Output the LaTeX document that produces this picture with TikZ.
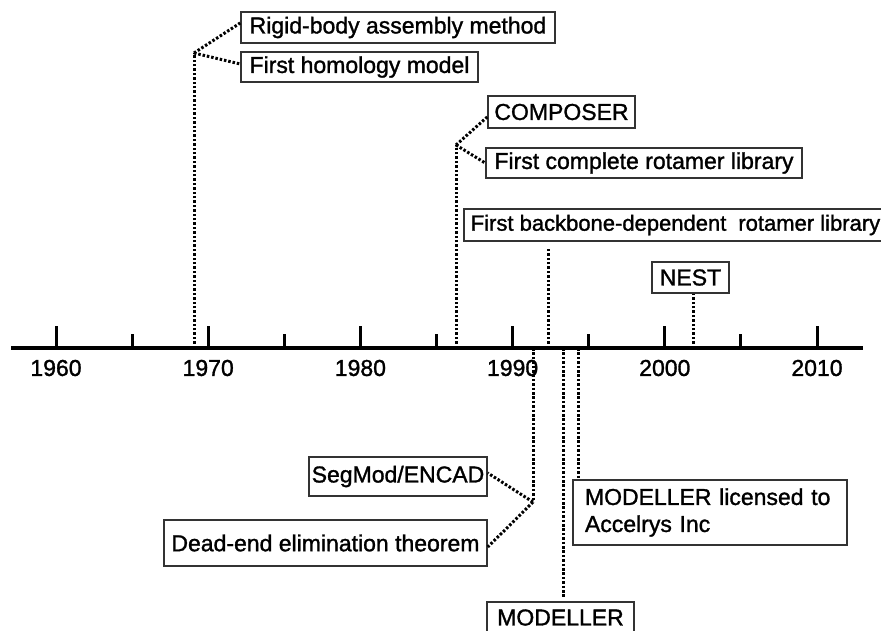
\documentclass[tikz,border=0pt]{standalone}
\usepackage{fontspec}
\setmainfont{Liberation Sans}
\newfontfamily\reffont{Liberation Sans}[FakeBold=1.3]
\begin{document}
\begin{tikzpicture}[x=1pt,y=-1pt,
  box/.style={draw=black!80, line width=1.6pt, inner sep=0pt, text=black,
    font=\reffont\fontsize{23}{27}\selectfont},
  yearlbl/.style={inner sep=0pt, text=black, font=\reffont\fontsize{23}{27}\selectfont},
  dotline/.style={line width=3pt, dash pattern=on 2.5pt off 1.9pt, black},
  axisline/.style={line width=4pt, black},
  majortick/.style={line width=3pt, black},
  minortick/.style={line width=3pt, black}]
\clip (0,0) rectangle (881,630);
\fill[white] (0,0) rectangle (881,630);

% boxes above the axis
\node[box, minimum width=314pt, minimum height=31pt] (rigid) at (398,27.5) {Rigid-body assembly method};
\node[box, minimum width=237pt, minimum height=30pt] (homol) at (359.5,67) {First homology model};
\node[box, minimum width=147pt, minimum height=32pt] (composer) at (561.5,112) {COMPOSER};
\node[box, minimum width=316pt, minimum height=30pt] (fcomplete) at (644,163) {First complete rotamer library};
\node[box, anchor=west, inner xsep=7pt, minimum height=32pt, font=\reffont\fontsize{22}{26}\selectfont] (backbone) at (463,225) {First backbone-dependent\hspace{12pt}rotamer library};
\node[box, minimum width=77pt, minimum height=31pt] (nest) at (690.5,277.5) {NEST};

% boxes below the axis
\node[box, minimum width=178pt, minimum height=39pt] (segmod) at (398,476.5) {SegMod/ENCAD};
\node[box, minimum width=323pt, minimum height=46pt] (deadend) at (325.5,543) {Dead-end elimination theorem};
\node[box, minimum width=274pt, minimum height=65pt, text width=250pt, align=left] (licensed) at (710,512.5) {MODELLER licensed to\\Accelrys Inc};
\node[box, minimum width=147pt, minimum height=31pt] (modeller) at (560.5,617.5) {MODELLER};

% points on the axis and junctions
\coordinate (a1969) at (194,348);
\coordinate (a1986) at (456,348);
\coordinate (a1991) at (533,348);
\coordinate (a1992) at (548,348);
\coordinate (a1993) at (563,348);
\coordinate (a1995) at (578,348);
\coordinate (a2002) at (693,348);
\coordinate (j1) at (194,53);
\coordinate (j2) at (456,145);
\coordinate (j3) at (533,502);

% connectors
\draw[dotline] (a1969) -- (j1);
\draw[dotline] (j1) -- ([yshift=4.5pt]rigid.west);
\draw[dotline] (j1) -- ([yshift=3pt]homol.west);
\draw[dotline] (a1986) -- (j2);
\draw[dotline] (j2) -- ([yshift=-5pt]composer.west);
\draw[dotline] (j2) -- (fcomplete.west);
\draw[dotline] (a1992) -- ([yshift=-6pt]a1992 |- backbone.south);
\draw[dotline] (a2002) -- (a2002 |- nest.south);
\draw[dotline] (a1991) -- (j3);
\draw[dotline] (j3) -- ([yshift=3.5pt]segmod.east);
\draw[dotline] (j3) -- ([yshift=-4pt]deadend.east);
\draw[dotline] (a1993) -- ([yshift=4pt]a1993 |- modeller.north);
\draw[dotline] (a1995) -- (a1995 |- licensed.north);

% axis
\draw[axisline] (11,348) -- (863,348);
\foreach \yr in {1960,1970,...,2010} {
  \pgfmathsetmacro{\tx}{56+15.22*(\yr-1960)}
  \draw[majortick] (\tx,349) -- (\tx,326);
  \node[yearlbl] (y\yr) at (\tx,368) {\yr};
}
\foreach \yr in {1965,1975,...,2005} {
  \pgfmathsetmacro{\tx}{56+15.22*(\yr-1960)}
  \draw[minortick] (\tx,349) -- (\tx,334);
}
\end{tikzpicture}
\end{document}
